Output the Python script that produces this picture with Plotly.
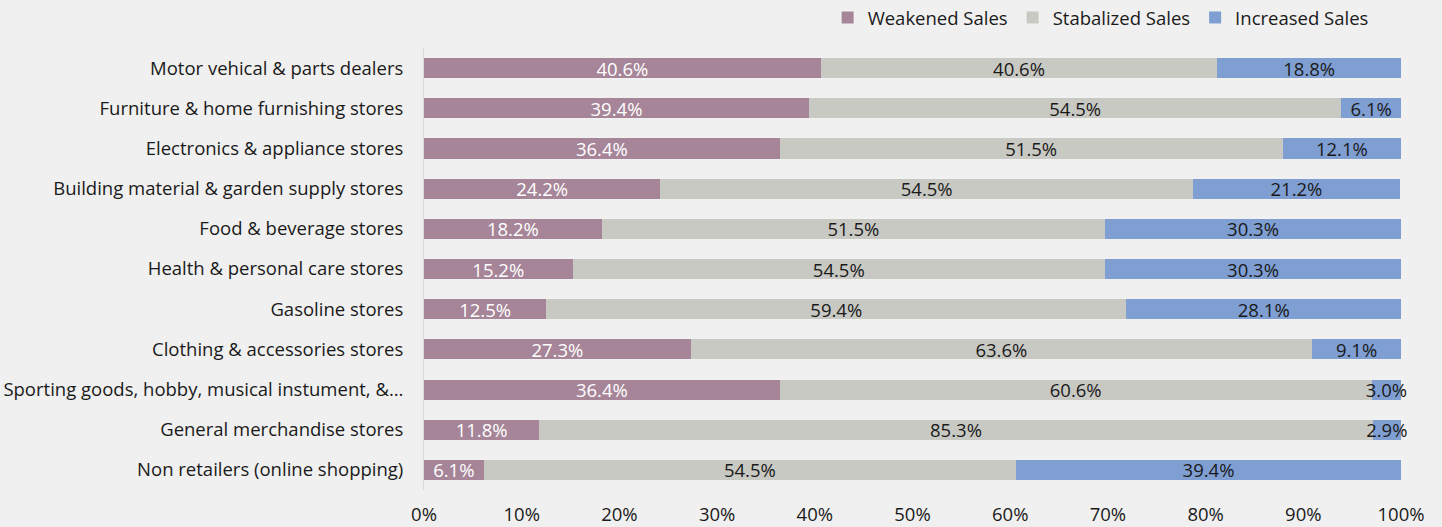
import plotly.graph_objects as go

categories = [
    "Motor vehical & parts dealers",
    "Furniture & home furnishing stores",
    "Electronics & appliance stores",
    "Building material & garden supply stores",
    "Food & beverage stores",
    "Health & personal care stores",
    "Gasoline stores",
    "Clothing & accessories stores",
    "Sporting goods, hobby, musical instument, &…",
    "General merchandise stores",
    "Non retailers (online shopping)",
]
weakened = [40.6, 39.4, 36.4, 24.2, 18.2, 15.2, 12.5, 27.3, 36.4, 11.8, 6.1]
stabilized = [40.6, 54.5, 51.5, 54.5, 51.5, 54.5, 59.4, 63.6, 60.6, 85.3, 54.5]
increased = [18.8, 6.1, 12.1, 21.2, 30.3, 30.3, 28.1, 9.1, 3.0, 2.9, 39.4]
x_ticks = [0, 10, 20, 30, 40, 50, 60, 70, 80, 90, 100]

series = [
    ("Weakened Sales", weakened, "#a68598", "#ffffff"),
    ("Stabalized Sales", stabilized, "#c9c9c4", "#1a1a1a"),
    ("Increased Sales", increased, "#7f9fd3", "#1a1a1a"),
]

FS = 18.5

fig = go.Figure()
for name, vals, color, tcolor in series:
    fig.add_trace(go.Bar(
        y=categories, x=vals, name=name, orientation="h",
        marker=dict(color=color, line=dict(width=0)),
        text=[f"{v:.1f}%" for v in vals],
        textposition="inside", insidetextanchor="middle",
        textfont=dict(color=tcolor, size=FS, family="Open Sans"),
        constraintext="none",
        cliponaxis=False,
        hoverinfo="skip",
    ))

fig.update_layout(
    barmode="stack",
    bargap=0.5,
    width=1442, height=527,
    paper_bgcolor="#f0f0f0", plot_bgcolor="#f0f0f0",
    font=dict(family="Open Sans", size=FS, color="#1a1a1a"),
    margin=dict(l=424, r=41, t=48, b=37, autoexpand=False),
    uniformtext=dict(minsize=FS, mode="show"),
    legend=dict(orientation="h", x=0.972, xanchor="right", y=1.068, yanchor="middle",
                font=dict(size=FS), traceorder="normal", bgcolor="rgba(0,0,0,0)",
                itemwidth=30),
    xaxis=dict(range=[0, 100], tickvals=x_ticks, ticktext=[f"{t}%" for t in x_ticks],
               showgrid=False, zeroline=False, showline=False, ticks="",
               tickfont=dict(size=FS), ticklabelstandoff=11, automargin=False),
    yaxis=dict(autorange="reversed", showline=True, linecolor="#d9d9d9", linewidth=1,
               ticks="", showgrid=False, ticklabelstandoff=16, tickfont=dict(size=FS),
               automargin=False),
)

fig.write_html(
    "out.html",
    config={"displayModeBar": False},
    post_script="document.body.style.margin='0';document.body.style.background='#f0f0f0';",
)
